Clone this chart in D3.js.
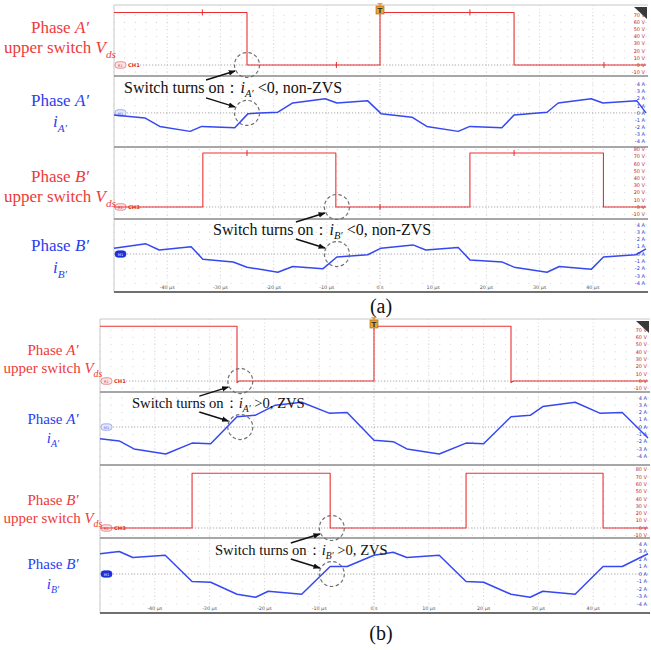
<!DOCTYPE html>
<html><head><meta charset="utf-8">
<script src="https://cdn.jsdelivr.net/npm/d3@7"></script>
<style>body{margin:0;background:#fff} svg{display:block}</style>
</head><body>
<svg id="c" width="651" height="650"></svg>
<script>
// ---------------- DATA ----------------
const timeTicks = [-40, -30, -20, -10, 0, 10, 20, 30, 40];
const timeTickLabels = ["-40 µs", "-30 µs", "-20 µs", "-10 µs", "0 s", "10 µs", "20 µs", "30 µs", "40 µs"];
const voltTicksCH1 = [-10, 0, 10, 20, 30, 40, 50, 60, 70];
const voltTicksCH3 = [-10, 0, 10, 20, 30, 40, 50, 60, 70, 80];
const currTicks = [-4, -3, -2, -1, 0, 1, 2, 3, 4];

// (a) non-ZVS  [time µs, value]
const aVdsA = [[-50,74],[-25,74],[-25,0],[0,0],[0,74],[25.2,74],[25.2,0],[50,0]];
const aIA = [[-50,-0.3],[-44.2,-0.7],[-41.4,-1.9],[-35.7,-2.6],[-33.5,-1.9],[-27.3,-2.1],[-24.8,-0.1],
  [-19.2,0.1],[-16.4,1.4],[-10.3,2.0],[-8.1,1.4],[-2.3,1.7],[0.2,-0.1],[6.0,-0.6],[8.8,-1.9],[14.7,-2.6],
  [16.9,-1.9],[22.9,-2.1],[25.2,-0.3],[31.4,0.1],[33.5,1.4],[39.7,2.0],[41.9,1.4],[48.3,1.7],[50,0]];
const aVdsB = [[-50,0],[-33.3,0],[-33.3,75],[-8.3,75],[-8.3,0],[16.9,0],[16.9,75],[42,75],[42,0],[50,0]];
const aIB = [[-50,0.8],[-44,1.4],[-41.5,0.55],[-35.5,1.0],[-33.3,-0.7],[-27.6,-1.1],[-25,-1.8],[-19.2,-2.5],
  [-16.4,-1.7],[-10.7,-2.0],[-8.1,-0.4],[-2.3,-0.1],[0.2,0.8],[6.2,1.25],[8.6,0.55],[14.7,0.9],[16.9,-0.8],
  [23,-1.1],[25.2,-1.8],[31.4,-2.5],[33.7,-1.7],[39.7,-2.1],[42,-0.4],[48.1,-0.1],[50,0.7]];
const aMarkA = [[-33.4,74],[-8.2,0],[16.9,74],[42.1,0]];
const aMarkB = [[-25,75],[0,0],[25.2,75]];

// (b) ZVS
const bVdsA = [[-50,75],[-25,75],[-25,-2],[-24.6,0],[0,0],[0,75],[25,75],[25,-2],[25.4,0],[50,0]];
const bIA = [[-50,-1.6],[-46.5,-1.9],[-43.8,-3.0],[-38,-3.7],[-33.2,-2.2],[-29.8,-2.3],[-25,1.4],[-21.7,1.6],
  [-18,3.0],[-13.2,3.4],[-8.2,1.9],[-4.9,2.0],[0,-1.8],[3.5,-2.0],[6,-3.0],[11.9,-3.7],[16.8,-2.2],[20,-2.3],
  [25,1.4],[28.5,1.6],[30.8,2.8],[36.7,3.4],[41.2,1.9],[45.3,2.0],[50,-1.5]];
const bVdsB = [[-50,0],[-33.2,0],[-33.2,75],[-8,75],[-8,0],[16.8,0],[16.8,75],[41.8,75],[41.8,0],[50,0]];
const bIB = [[-50,2.7],[-46.5,3.0],[-44,2.2],[-38.1,2.5],[-33.2,-1.0],[-29.8,-1.1],[-25,-2.7],[-21.6,-3.1],
  [-19.3,-2.3],[-13.2,-2.7],[-8,1.0],[-4.9,1.0],[0,2.5],[3.5,2.9],[6,2.2],[11.9,2.5],[16.8,-1.0],[20,-1.1],
  [25,-2.7],[28.5,-3.1],[30.8,-2.3],[36.7,-2.7],[41.8,1.0],[45.3,1.0],[50,2.7]];

// switching instants where the circles sit (µs)
const aSwitch = [-25, -8.1];
const bSwitch = [-24.4, -7.7];

const noteA = ["<0, non-ZVS", "<0, non-ZVS"];
const noteB = [">0, ZVS", ">0, ZVS"];

// ---------------- LAYOUT ----------------
const RED = "#e8262a", BLUE = "#2a3ef0", LRED = "#ee3a3a";
const SERIF = "'Liberation Serif','Times New Roman',serif";
const svg = d3.select("#c");

const panels = [
  { x0:114, x1:646, subs:[[5,76,0.845],[76,147,0.52],[147,219,0.833],[219,292,0.48]],
    tag:"(a)", tagY:313, lab:17, ann:16, cx:60, textX:[124,213], textY:[93,235],
    labY:[[33,53,106,127],[182,202,251,273]],
    vA:aVdsA, iA:aIA, vB:aVdsB, iB:aIB, sw:aSwitch, note:noteA, marks:[aMarkA,aMarkB] },
  { x0:100, x1:648, subs:[[319,392,0.85],[392,465,0.48],[465,538,0.863],[538,613,0.48]],
    tag:"(b)", tagY:640, lab:15, ann:14.6, cx:53, textX:[132,215], textY:[408,555],
    labY:[[355,373,424,443],[505,523,569,589]],
    vA:bVdsA, iA:bIA, vB:bVdsB, iB:bIB, sw:bSwitch, note:noteB, marks:[[],[]] }
];

function rich(g, x, y, segs, size, color, anchor) {
  const t = g.append("text").attr("x", x).attr("y", y)
    .attr("font-family", SERIF).attr("font-size", size).attr("fill", color)
    .attr("text-anchor", anchor || "start");
  let shift = 0;
  segs.forEach(s => {
    const sp = t.append("tspan").text(s.t);
    if (s.i) sp.attr("font-style", "italic");
    const target = s.sub ? size * 0.28 : 0;
    if (target !== shift) { sp.attr("dy", target - shift); shift = target; }
    if (s.sub) sp.attr("font-size", size * 0.66);
  });
  return t;
}

svg.append("defs").append("marker").attr("id", "ah").attr("viewBox", "0 0 10 10")
  .attr("refX", 9).attr("refY", 5).attr("markerWidth", 7).attr("markerHeight", 7)
  .attr("markerUnits", "userSpaceOnUse").attr("orient", "auto")
  .append("path").attr("d", "M0,1 L10,5 L0,9 Z").attr("fill", "#111");

panels.forEach(P => {
  const g = svg.append("g");
  const x = d3.scaleLinear().domain([-50, 50]).range([P.x0, P.x1]);
  const T0 = P.subs[0][0], B0 = P.subs[3][1];

  // y scales per sub-panel
  const ys = P.subs.map((s, k) => {
    const h = s[1] - s[0], zero = s[0] + s[2] * h;
    return k % 2 === 0
      ? d3.scaleLinear().domain([0, 10]).range([zero, zero - 0.1 * h])
      : d3.scaleLinear().domain([0, 1]).range([zero, zero - 0.1 * h]);
  });

  // dot grid
  const minor = d3.range(-50, 50.01, 2);
  P.subs.forEach((s, k) => {
    const ticks = k % 2 === 0 ? (k === 0 ? voltTicksCH1 : voltTicksCH3) : currTicks;
    ticks.forEach(v => {
      const yy = ys[k](v);
      if (yy < s[0] + 2 || yy > s[1] - 2) return;
      g.append("g").selectAll("circle").data(minor).join("circle")
        .attr("cx", d => x(d)).attr("cy", yy).attr("r", 0.55).attr("fill", "#cfcfcf");
    });
  });
  // major vertical dotted lines
  g.append("g").selectAll("line").data(timeTicks).join("line")
    .attr("x1", d => x(d)).attr("x2", d => x(d)).attr("y1", T0).attr("y2", B0)
    .attr("stroke", d => d === 0 ? "#aaa" : "#d4d4d4").attr("stroke-width", 0.8)
    .attr("stroke-dasharray", "1,2.5");

  // frame
  g.append("line").attr("x1", P.x0).attr("x2", P.x1 + 2).attr("y1", T0).attr("y2", T0).attr("stroke", "#c8c8c8");
  g.append("line").attr("x1", P.x0).attr("x2", P.x0).attr("y1", T0).attr("y2", B0).attr("stroke", "#c8c8c8");
  [1, 2, 3].forEach(k => g.append("line").attr("x1", P.x0).attr("x2", P.x1 + 2)
    .attr("y1", P.subs[k][0]).attr("y2", P.subs[k][0]).attr("stroke", "#8a8a8a").attr("stroke-width", 1.6));
  g.append("line").attr("x1", P.x0).attr("x2", P.x1 + 2).attr("y1", B0).attr("y2", B0)
    .attr("stroke", "#707070").attr("stroke-width", 2);

  // zero level dotted lines + channel tags
  const chNames = ["CH1", "M1", "CH3", "M1"];
  P.subs.forEach((s, k) => {
    const zy = ys[k](0);
    const isV = k % 2 === 0;
    g.append("line").attr("x1", P.x0 + (isV ? 26 : 13)).attr("x2", P.x1).attr("y1", zy).attr("y2", zy)
      .attr("stroke", "#999").attr("stroke-width", 0.8).attr("stroke-dasharray", "1.2,1.8");
    const filled = k === 3;
    g.append("rect").attr("x", P.x0 + 1).attr("y", zy - 3.2).attr("width", 11).attr("height", 6.4).attr("rx", 3)
      .attr("fill", isV ? "#fde4e4" : (filled ? "#1a30d8" : "#e4e6fb"))
      .attr("stroke", isV ? "#e36a6a" : (filled ? "#1a30d8" : "#8a92ee")).attr("stroke-width", 0.7);
    g.append("text").attr("x", P.x0 + 6.5).attr("y", zy + 1.6).attr("text-anchor", "middle")
      .attr("font-size", 3.6).attr("font-family", "DejaVu Sans")
      .attr("fill", isV ? "#d04040" : (filled ? "#fff" : "#5a62d8"))
      .text(isV ? "R1" : "M1");
    if (isV) g.append("text").attr("x", P.x0 + 14).attr("y", zy + 1.9).attr("font-size", 5.2)
      .attr("font-family", "DejaVu Sans").attr("font-weight", "bold").attr("fill", "#d83030").text(chNames[k]);
  });

  // right tick labels
  P.subs.forEach((s, k) => {
    const isV = k % 2 === 0;
    const ticks = isV ? (k === 0 ? voltTicksCH1 : voltTicksCH3) : currTicks;
    g.append("g").selectAll("text").data(ticks).join("text")
      .attr("x", P.x1 - 1).attr("y", d => ys[k](d)).attr("dy", "0.35em").attr("text-anchor", "end")
      .attr("font-size", 5).attr("font-family", "DejaVu Sans")
      .attr("fill", isV ? "#c42a2a" : "#2a36c8")
      .text(d => d + (isV ? " V" : " A"));
  });

  // time labels
  g.append("g").selectAll("text").data(timeTicks).join("text")
    .attr("x", d => x(d)).attr("y", B0 - 3).attr("text-anchor", "middle")
    .attr("font-size", 4.8).attr("font-family", "DejaVu Sans").attr("fill", "#555")
    .text((d, i) => timeTickLabels[i]);

  // traces
  const traces = [[P.vA, 0, RED, 1.1], [P.iA, 1, BLUE, 1.5], [P.vB, 2, RED, 1.1], [P.iB, 3, BLUE, 1.5]];
  traces.forEach(([data, k, col, w]) => {
    const line = d3.line().x(d => x(d[0])).y(d => ys[k](d[1]));
    g.append("path").attr("d", line(data)).attr("fill", "none").attr("stroke", col)
      .attr("stroke-width", w).attr("stroke-linejoin", "round").attr("opacity", 0.95);
  });
  // small markers on voltage traces
  P.marks.forEach((m, j) => {
    const k = j * 2;
    g.append("g").selectAll("line").data(m).join("line")
      .attr("x1", d => x(d[0])).attr("x2", d => x(d[0]))
      .attr("y1", d => ys[k](d[1]) - 3).attr("y2", d => ys[k](d[1]) + 3)
      .attr("stroke", RED).attr("stroke-width", 1);
  });

  // trigger marker
  const tx = x(0);
  g.append("path").attr("d", `M${tx - 3},${T0 - 2} L${tx + 3},${T0 - 2} L${tx},${T0 + 1} Z`).attr("fill", "#f0a030");
  g.append("rect").attr("x", tx - 4).attr("y", T0 + 1).attr("width", 8).attr("height", 8)
    .attr("fill", "#f0a030").attr("stroke", "#a06010").attr("stroke-width", 0.6);
  g.append("text").attr("x", tx).attr("y", T0 + 7.6).attr("text-anchor", "middle").attr("font-size", 7)
    .attr("font-family", "DejaVu Sans").attr("font-weight", "bold").attr("fill", "#333").text("T");

  // top-right triangle
  g.append("path").attr("d", `M${P.x1 - 12},${T0 + 2} L${P.x1 + 1},${T0 + 2} L${P.x1 + 1},${T0 + 14} Z`)
    .attr("fill", "#3a3a3a");

  // left labels
  const ph = ["A", "B"];
  [0, 1].forEach(j => {
    const L = P.labY[j];
    rich(g, P.cx, L[0], [{t:"Phase "}, {t: ph[j] + "′", i:true}], P.lab, LRED, "middle");
    rich(g, P.cx, L[1], [{t:"upper switch "}, {t:"V", i:true}, {t:"ds", i:true, sub:true}], P.lab, LRED, "middle");
    rich(g, P.cx, L[2], [{t:"Phase "}, {t: ph[j] + "′", i:true}], P.lab, BLUE, "middle");
    rich(g, P.cx, L[3], [{t:"i", i:true}, {t: ph[j] + "′", i:true, sub:true}], P.lab, BLUE, "middle");

    // annotation text
    rich(g, P.textX[j], P.textY[j], [{t:"Switch turns on："}, {t:"i", i:true}, {t: ph[j] + "′", i:true, sub:true},
      {t:" " + P.note[j]}], P.ann, "#111", "start");

    // circles + arrows
    const cxp = x(P.sw[j]);
    const c1y = ys[j * 2](0), c2y = ys[j * 2 + 1](0);
    [[c1y, 1], [c2y, -1]].forEach(([cy, sgn]) => {
      g.append("circle").attr("cx", cxp).attr("cy", cy).attr("r", 12.5).attr("fill", "none")
        .attr("stroke", "#707070").attr("stroke-width", 1.2).attr("stroke-dasharray", "3.5,2.5");
      g.append("line").attr("x1", cxp - 41).attr("y1", cy + sgn * 15).attr("x2", cxp - 12).attr("y2", cy + sgn * 6)
        .attr("stroke", "#111").attr("stroke-width", 1.4).attr("marker-end", "url(#ah)");
    });
  });

  // panel tag
  g.append("text").attr("x", 381).attr("y", P.tagY).attr("text-anchor", "middle")
    .attr("font-family", SERIF).attr("font-size", 20).attr("fill", "#111").text(P.tag);
});
</script>
</body></html>
